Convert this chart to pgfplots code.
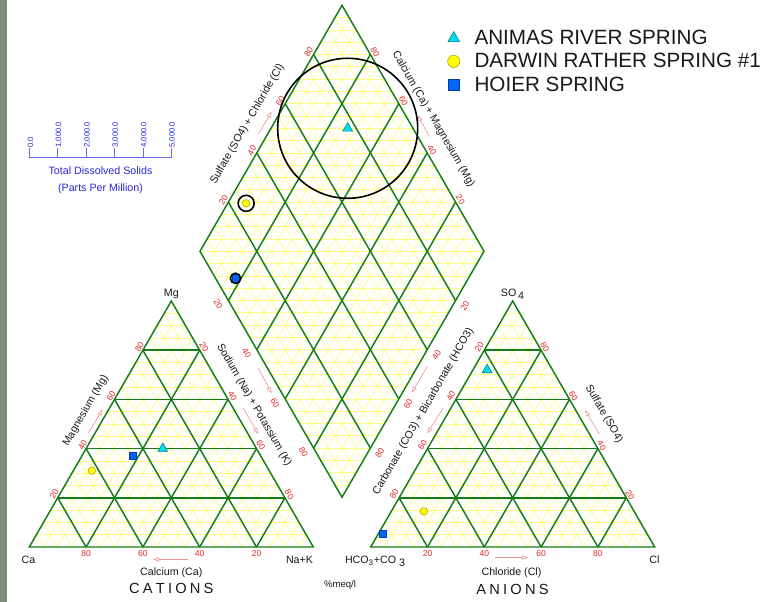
\documentclass[border=0pt]{standalone}
\usepackage{fontspec}
\setmainfont{Liberation Sans}
\usepackage{pgfplots}
\pgfplotsset{compat=1.18}
\usepackage{pgfplotstable}
\usetikzlibrary{arrows.meta}

\definecolor{gridgreen}{RGB}{22,124,22}
\definecolor{gridyellow}{RGB}{255,255,125}
\definecolor{tickred}{RGB}{228,40,40}
\definecolor{arrowpink}{RGB}{236,150,150}
\definecolor{tdsblue}{RGB}{40,40,225}
\definecolor{animas}{RGB}{0,220,240}
\definecolor{animasedge}{RGB}{0,120,140}
\definecolor{darwin}{RGB}{255,255,0}
\definecolor{darwinedge}{RGB}{170,160,0}
\definecolor{hoier}{RGB}{0,102,255}
\definecolor{hoieredge}{RGB}{0,60,170}
\definecolor{sidebar}{RGB}{128,138,126}
\definecolor{labeltext}{RGB}{25,25,25}

\newcommand\axlab{\fontsize{8}{9.6}\selectfont}
\newcommand\ticklab{\fontsize{6.4}{7}\selectfont}

% Water chemistry in percent of meq/l; total dissolved solids in ppm
\pgfplotstableread{
Ca   Mg   NaK  HCO3 SO4  Cl   TDS
33   40   27   23   72   5    4930
}\animas
\pgfplotstableread{
Ca   Mg   NaK  HCO3 SO4  Cl   TDS
62.5 31   6.5  74   14.5 11.5 565
}\darwin
\pgfplotstableread{
Ca   Mg   NaK  HCO3 SO4  Cl   TDS
45   37   18   93   5.4  1.6  360
}\hoier

% Piper placement: every field has a 284-unit side, drawing units are pixels
\pgfplotsset{
  table/cation/.style={
    /pgfplots/table/x expr={29.3+2.84*(\thisrow{NaK}+0.5*\thisrow{Mg})},
    /pgfplots/table/y expr={547-2.46*\thisrow{Mg}}},
  table/anion/.style={
    /pgfplots/table/x expr={370.7+2.84*(\thisrow{Cl}+0.5*\thisrow{SO4})},
    /pgfplots/table/y expr={547-2.46*\thisrow{SO4}}},
  table/diamond/.style={
    /pgfplots/table/x expr={342+1.42*(\thisrow{NaK}+\thisrow{SO4}+\thisrow{Cl}-100)},
    /pgfplots/table/y expr={497.3-2.46*(100-\thisrow{NaK}+\thisrow{SO4}+\thisrow{Cl})}},
  animasmark/.style={forget plot, only marks, mark=triangle*, mark size=4.3pt,
    mark options={fill=animas, draw=animasedge, line width=0.4pt}},
  darwinmark/.style={forget plot, only marks, mark=*, mark size=2.8pt,
    mark options={fill=darwin, draw=darwinedge, line width=0.4pt}},
  hoiermark/.style={forget plot, only marks, mark=square*, mark size=2.75pt,
    mark options={fill=hoier, draw=hoieredge, line width=0.4pt}},
  tdsring/.style={forget plot, only marks, mark=o, line width=1.2pt,
    scatter, point meta=\thisrow{TDS},
    scatter/use mapped color={draw=black},
    visualization depends on={0.01065*\thisrow{TDS}\as\ringr},
    scatter/@pre marker code/.append style={/tikz/mark size=\ringr pt}},
}

% Ternary field with 5% yellow grid and 20% green grid; #1 = x of left corner
\newcommand\ternarygrid[1]{%
  \pgfplotsinvokeforeach{1,...,19}{%
    \draw[gridyellow,line width=0.5pt] ({#1+7.1*##1},{547-12.3*##1}) -- ({#1+284-7.1*##1},{547-12.3*##1});
    \draw[gridyellow,line width=0.5pt] ({#1+14.2*##1},547) -- ({#1+142+7.1*##1},{301+12.3*##1});
    \draw[gridyellow,line width=0.5pt] ({#1+14.2*##1},547) -- ({#1+7.1*##1},{547-12.3*##1});
  }%
  \pgfplotsinvokeforeach{4,8,12,16}{%
    \draw[gridgreen,line width=1.1pt] ({#1+7.1*##1},{547-12.3*##1}) -- ({#1+284-7.1*##1},{547-12.3*##1});
    \draw[gridgreen,line width=1.1pt] ({#1+14.2*##1},547) -- ({#1+142+7.1*##1},{301+12.3*##1});
    \draw[gridgreen,line width=1.1pt] ({#1+14.2*##1},547) -- ({#1+7.1*##1},{547-12.3*##1});
  }%
  \draw[gridgreen,line width=1.1pt,line join=miter] (#1,547) -- ({#1+284},547) -- ({#1+142},301) -- cycle;
}

\tikzset{
  pipertick/.style={text=tickred, font=\ticklab, inner sep=0pt},
  piperarrow/.style={arrowpink, line width=0.45pt, -{Triangle[open,length=4.5pt,width=3.2pt]}},
  pipertitle/.style={text=labeltext, font=\axlab, inner sep=0pt},
  tdsticklabel/.style={text=tdsblue, font=\fontsize{5.8}{6}\selectfont, inner sep=0pt, rotate=90, anchor=west},
}

\begin{document}
\begin{tikzpicture}
\begin{axis}[
  width=588pt, height=451.5pt, scale only axis,
  xmin=0, xmax=784, ymin=0, ymax=602, y dir=reverse,
  hide axis, clip=false,
  legend style={at={(axis cs:446.8,30)}, anchor=north west,
    draw=none, fill=none, inner sep=0pt, outer sep=0pt,
    font=\fontsize{15.5}{18}\selectfont, text=labeltext,
    row sep=6.3pt, column sep=0pt,
    nodes={inner sep=0pt, text height=11.1pt, text depth=0pt}},
  legend cell align=left,
  legend image code/.code={\path (0pt,-5pt) (20.4pt,5pt); \draw[#1] plot coordinates {(5pt,-0.6pt)};},
]
% canvas
\fill[white] (0,0) rectangle (784,602);
\fill[sidebar] (0,0) rectangle (6.5,602);

% cation and anion fields
\ternarygrid{29.3}
\ternarygrid{370.7}

% central diamond
\pgfplotsinvokeforeach{1,...,19}{%
  \draw[gridyellow,line width=0.5pt] ({342+7.1*#1},{497.3-12.3*#1}) -- ({200+7.1*#1},{251.3-12.3*#1});
  \draw[gridyellow,line width=0.5pt] ({342-7.1*#1},{497.3-12.3*#1}) -- ({484-7.1*#1},{251.3-12.3*#1});
  \draw[gridyellow,line width=0.5pt] ({342-7.1*#1},{497.3-12.3*#1}) -- ({342+7.1*#1},{497.3-12.3*#1});
  \draw[gridyellow,line width=0.5pt] ({342-7.1*#1},{5.3+12.3*#1}) -- ({342+7.1*#1},{5.3+12.3*#1});
}
\draw[gridyellow,line width=0.5pt] (200,251.3) -- (484,251.3);
\pgfplotsinvokeforeach{4,8,12,16}{%
  \draw[gridgreen,line width=1.1pt] ({342+7.1*#1},{497.3-12.3*#1}) -- ({200+7.1*#1},{251.3-12.3*#1});
  \draw[gridgreen,line width=1.1pt] ({342-7.1*#1},{497.3-12.3*#1}) -- ({484-7.1*#1},{251.3-12.3*#1});
}
\draw[gridgreen,line width=1.1pt,line join=miter] (342,497.3) -- (484,251.3) -- (342,5.3) -- (200,251.3) -- cycle;

% percentage labels
% cations: Ca along the base, Mg on the left, Na+K on the right
\node[pipertick] at (86.1,554) {80};  \node[pipertick] at (142.9,554) {60};
\node[pipertick] at (199.7,554) {40}; \node[pipertick] at (256.5,554) {20};
\node[pipertick,rotate=60] at (54.2,494.4) {20};  \node[pipertick,rotate=60] at (82.6,445.2) {40};
\node[pipertick,rotate=60] at (111.0,396.0) {60}; \node[pipertick,rotate=60] at (139.4,346.8) {80};
\node[pipertick,rotate=-60] at (204.1,347.0) {20}; \node[pipertick,rotate=-60] at (232.5,396.2) {40};
\node[pipertick,rotate=-60] at (260.9,445.4) {60}; \node[pipertick,rotate=-60] at (289.3,494.6) {80};
% anions: Cl along the base, HCO3 on the left, SO4 on the right
\node[pipertick] at (427.5,554) {20}; \node[pipertick] at (484.3,554) {40};
\node[pipertick] at (541.1,554) {60}; \node[pipertick] at (597.9,554) {80};
\node[pipertick,rotate=60] at (394.1,494.2) {80}; \node[pipertick,rotate=60] at (422.5,445.0) {60};
\node[pipertick,rotate=60] at (450.9,395.8) {40}; \node[pipertick,rotate=60] at (479.3,346.6) {20};
\node[pipertick,rotate=-60] at (630.1,494.8) {20}; \node[pipertick,rotate=-60] at (601.7,445.6) {40};
\node[pipertick,rotate=-60] at (573.3,396.4) {60}; \node[pipertick,rotate=-60] at (544.9,347.2) {80};
% diamond
\node[pipertick,rotate=60] at (223.5,199.7) {20}; \node[pipertick,rotate=60] at (251.9,150.5) {40};
\node[pipertick,rotate=60] at (280.3,101.3) {60}; \node[pipertick,rotate=60] at (308.7,52.1) {80};
\node[pipertick,rotate=-60] at (375.1,52.0) {80};  \node[pipertick,rotate=-60] at (403.5,101.2) {60};
\node[pipertick,rotate=-60] at (431.9,150.4) {40}; \node[pipertick,rotate=-60] at (460.3,199.6) {20};
\node[pipertick,rotate=-60] at (218.2,304.3) {20}; \node[pipertick,rotate=-60] at (246.6,353.5) {40};
\node[pipertick,rotate=-60] at (275.0,402.7) {60}; \node[pipertick,rotate=-60] at (303.4,451.9) {80};
\node[pipertick,rotate=60] at (464.9,305.7) {20}; \node[pipertick,rotate=60] at (436.5,354.9) {40};
\node[pipertick,rotate=60] at (408.1,404.1) {60}; \node[pipertick,rotate=60] at (379.7,453.3) {80};

% direction arrows
\draw[piperarrow] (188,559.3) -- (153,559.3);
\draw[piperarrow] (88.3,433.3) -- (102.7,409.3);
\draw[piperarrow] (243.3,408.3) -- (258.3,434);
\draw[piperarrow] (258.3,368.3) -- (271.7,393.3);
\draw[piperarrow] (427.3,366.7) -- (411.7,392.7);
\draw[piperarrow] (443.3,407.7) -- (427.3,433.3);
\draw[piperarrow] (599.3,434) -- (585,410);
\draw[piperarrow] (495,557.7) -- (528.3,557.7);
\draw[piperarrow] (258.3,134) -- (271.7,111.7);
\draw[piperarrow] (429.3,136.7) -- (417.7,115);

% field titles
\node[pipertitle] at (171.3,294) {Mg};
\node[pipertitle] at (28.5,559.5) {Ca};
\node[pipertitle] at (299.5,559.5) {Na+K};
\node[pipertitle] at (171.3,573) {Calcium (Ca)};
\node[pipertitle,font=\fontsize{11}{12}\selectfont] at (171.3,588.7) {C\hspace{2.4pt}A\hspace{2.4pt}T\hspace{2.4pt}I\hspace{2.4pt}O\hspace{2.4pt}N\hspace{2.4pt}S};
\node[pipertitle] at (512.5,294) {SO\,\raisebox{-2.2pt}{4}};
\node[pipertitle] at (375,561) {HCO\textsubscript{3}+CO \raisebox{-2.2pt}{3}};
\node[pipertitle] at (654.5,559.5) {Cl};
\node[pipertitle] at (511.5,573) {Chloride (Cl)};
\node[pipertitle,font=\fontsize{11}{12}\selectfont] at (512.5,589.3) {A\hspace{2.4pt}N\hspace{2.4pt}I\hspace{2.4pt}O\hspace{2.4pt}N\hspace{2.4pt}S};
\node[pipertitle,font=\fontsize{7.2}{8}\selectfont] at (340,585) {\%meq/l};
\node[pipertitle,rotate=60] at (85.7,410.7) {Magnesium (Mg)};
\node[pipertitle,rotate=-60] at (254,405) {Sodium (Na) + Potassium (K)};
\node[pipertitle,rotate=60] at (423.3,411.7) {Carbonate (CO3) + Bicarbonate (HCO3)};
\node[pipertitle,rotate=-60] at (604,414) {Sulfate (SO4)};
\node[pipertitle,rotate=60] at (247.3,124) {Sulfate (SO4) + Chloride (Cl)};
\node[pipertitle,rotate=-60] at (433.3,119) {Calcium (Ca) + Magnesium (Mg)};

% total dissolved solids scale
\draw[tdsblue!70,line width=0.5pt] (29.3,148) -- (29.3,157) -- (171.3,157) -- (171.3,148);
\pgfplotsinvokeforeach{57.7,86.1,114.5,142.9}{\draw[tdsblue!70,line width=0.5pt] (#1,148) -- (#1,157);}
\node[tdsticklabel] at (30.5,148) {0.0};
\node[tdsticklabel] at (58.9,148) {1,000.0};
\node[tdsticklabel] at (87.3,148) {2,000.0};
\node[tdsticklabel] at (115.7,148) {3,000.0};
\node[tdsticklabel] at (144.1,148) {4,000.0};
\node[tdsticklabel] at (172.5,148) {5,000.0};
\node[text=tdsblue,font=\axlab,inner sep=0pt] at (100.5,171) {Total Dissolved Solids};
\node[text=tdsblue,font=\axlab,inner sep=0pt] at (100.5,189) {(Parts Per Million)};

% samples in the cation field
\addplot[animasmark] table[cation] {\animas};
\addplot[darwinmark] table[cation] {\darwin};
\addplot[hoiermark]  table[cation] {\hoier};
% samples in the anion field
\addplot[animasmark] table[anion] {\animas};
\addplot[darwinmark] table[anion] {\darwin};
\addplot[hoiermark]  table[anion] {\hoier};
% samples in the diamond, ringed by total dissolved solids
\addplot[animasmark] table[diamond] {\animas};
\addplot[darwinmark] table[diamond] {\darwin};
\addplot[hoiermark]  table[diamond] {\hoier};
\addplot[tdsring] table[diamond] {\animas};
\addplot[tdsring] table[diamond] {\darwin};
\addplot[tdsring] table[diamond] {\hoier};

% legend
\addlegendimage{mark=triangle*, mark size=5pt, mark options={fill=animas, draw=animasedge, line width=0.4pt}}
\addlegendentry{ANIMAS RIVER SPRING}
\addlegendimage{mark=*, mark size=4.6pt, mark options={fill=darwin, draw=darwinedge, line width=0.4pt}}
\addlegendentry{DARWIN RATHER SPRING \#1}
\addlegendimage{mark=square*, mark size=3.9pt, mark options={fill=hoier, draw=hoieredge, line width=0.4pt}}
\addlegendentry{HOIER SPRING}
\end{axis}
\end{tikzpicture}
\end{document}
